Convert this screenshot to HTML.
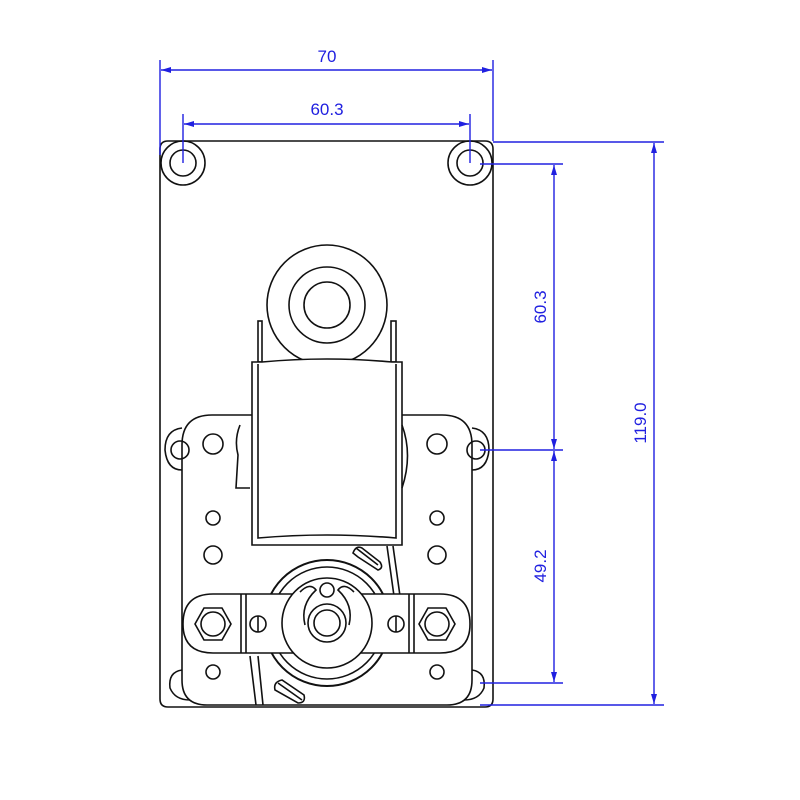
<!DOCTYPE html>
<html><head><meta charset="utf-8"><style>body{margin:0;background:#fff}svg{display:block}</style></head><body>
<svg width="800" height="800" viewBox="0 0 800 800" xmlns="http://www.w3.org/2000/svg">
<defs>
<marker id="a" viewBox="0 0 10 10" refX="10" refY="5" markerWidth="10" markerHeight="10" markerUnits="userSpaceOnUse" orient="auto-start-reverse"><path d="M0,2 L10,5 L0,8z" fill="#2020e0"/></marker>
</defs>
<g fill="none" stroke="#111" stroke-width="1.6">
<!-- plate -->
<path d="M168,141 H485 Q493,141 493,149 V699 Q493,707 485,707 H168 Q160,707 160,699 V149 Q160,141 168,141Z"/>
<circle cx="183" cy="163" r="22"/><circle cx="183" cy="163" r="13"/>
<circle cx="470" cy="163" r="22"/><circle cx="470" cy="163" r="13"/>
<!-- top bearing -->
<circle cx="327" cy="305" r="60"/><circle cx="327" cy="305" r="38"/><circle cx="327" cy="305" r="23"/>
<!-- tabs -->
<rect x="258" y="321" width="4" height="41"/><rect x="391" y="321" width="5" height="41"/>
<!-- coil -->
<path d="M252,362 H262 Q327,356 392,362 H402 V545 H252Z" fill="#fff"/>
<path d="M258,364 V538 Q327,532 396,538 V364"/>
<!-- bracket -->
<path d="M252,415 H212 Q182,415 182,445 V680 Q182,705 207,705 H447 Q472,705 472,680 V445 Q472,415 442,415 H402"/>
<path d="M240,425 Q234,440 238,455 L236,488 H250 M402,425 Q413,455 402,488"/>
<!-- ears -->
<path d="M182,428 Q165,430 165,450 Q167,470 182,470"/><circle cx="180" cy="450" r="9"/>
<path d="M472,428 Q489,430 489,450 Q487,470 472,470"/><circle cx="476" cy="450" r="9"/>
<path d="M182,670 Q168,672 170,688 Q175,700 190,700"/>
<path d="M472,670 Q486,672 484,688 Q479,700 464,700"/>
<!-- small holes -->
<circle cx="213" cy="444" r="10"/><circle cx="213" cy="518" r="7"/><circle cx="213" cy="555" r="9"/><circle cx="213" cy="672" r="7"/>
<circle cx="437" cy="444" r="10"/><circle cx="437" cy="518" r="7"/><circle cx="437" cy="555" r="9"/><circle cx="437" cy="672" r="7"/>
<!-- rotor -->
<circle cx="327" cy="623" r="63" stroke-width="2"/><circle cx="327" cy="623" r="56"/>
<path d="M356,548 L378,565 M353,553 Q356,545 362,548 L380,562 Q384,568 378,570 L358,557Z" />
<path d="M393,546 L400,596 M387,546 L394,596"/>
<path d="M250,656 L256,705 M258,656 L263,705"/>
<path d="M278,683 L302,700 M275,690 Q273,682 282,680 L304,695 Q306,703 298,703Z"/>
<!-- bar -->
<path d="M213,594 H440 Q470,594 470,624 Q470,653 440,653 H213 Q183,653 183,624 Q183,594 213,594Z" fill="#fff"/>
<path d="M241,594 V653 M246,594 V653 M409,594 V653 M414,594 V653"/>
<circle cx="327" cy="623" r="45" fill="#fff"/>
<path d="M300,592 Q310,582 316,590 Q300,605 305,625 M354,592 Q344,582 338,590 Q354,605 349,625"/>
<circle cx="327" cy="590" r="7"/>
<circle cx="327" cy="623" r="19"/><circle cx="327" cy="623" r="13"/>
<circle cx="258" cy="624" r="8"/><path d="M258,616 V632"/>
<circle cx="396" cy="624" r="8"/><path d="M396,616 V632"/>
<polygon points="195,624 204,608 222,608 231,624 222,640 204,640"/><circle cx="213" cy="624" r="12"/>
<polygon points="419,624 428,608 446,608 455,624 446,640 428,640"/><circle cx="437" cy="624" r="12"/>
</g>
<!-- dimensions -->
<g stroke="#2020e0" stroke-width="1.4" fill="none">
<path d="M160,60 V155 M493,60 V141 M183,114 V163 M470,114 V163"/>
<path d="M493,142 H664 M480,164 H563 M480,450 H563 M480,683 H563 M480,705 H664"/>
<line x1="161" y1="70" x2="492" y2="70" marker-start="url(#a)" marker-end="url(#a)"/>
<line x1="184" y1="124" x2="469" y2="124" marker-start="url(#a)" marker-end="url(#a)"/>
<line x1="554" y1="165" x2="554" y2="449" marker-start="url(#a)" marker-end="url(#a)"/>
<line x1="554" y1="451" x2="554" y2="682" marker-start="url(#a)" marker-end="url(#a)"/>
<line x1="654" y1="143" x2="654" y2="704" marker-start="url(#a)" marker-end="url(#a)"/>
</g>
<g fill="#2020e0" font-family="Liberation Sans, sans-serif" font-size="17" text-anchor="middle">
<text x="327" y="62">70</text>
<text x="327" y="115">60.3</text>
<text transform="translate(546,307) rotate(-90)">60.3</text>
<text transform="translate(546,566) rotate(-90)">49.2</text>
<text transform="translate(646,423) rotate(-90)">119.0</text>
</g>
</svg>
</body></html>
